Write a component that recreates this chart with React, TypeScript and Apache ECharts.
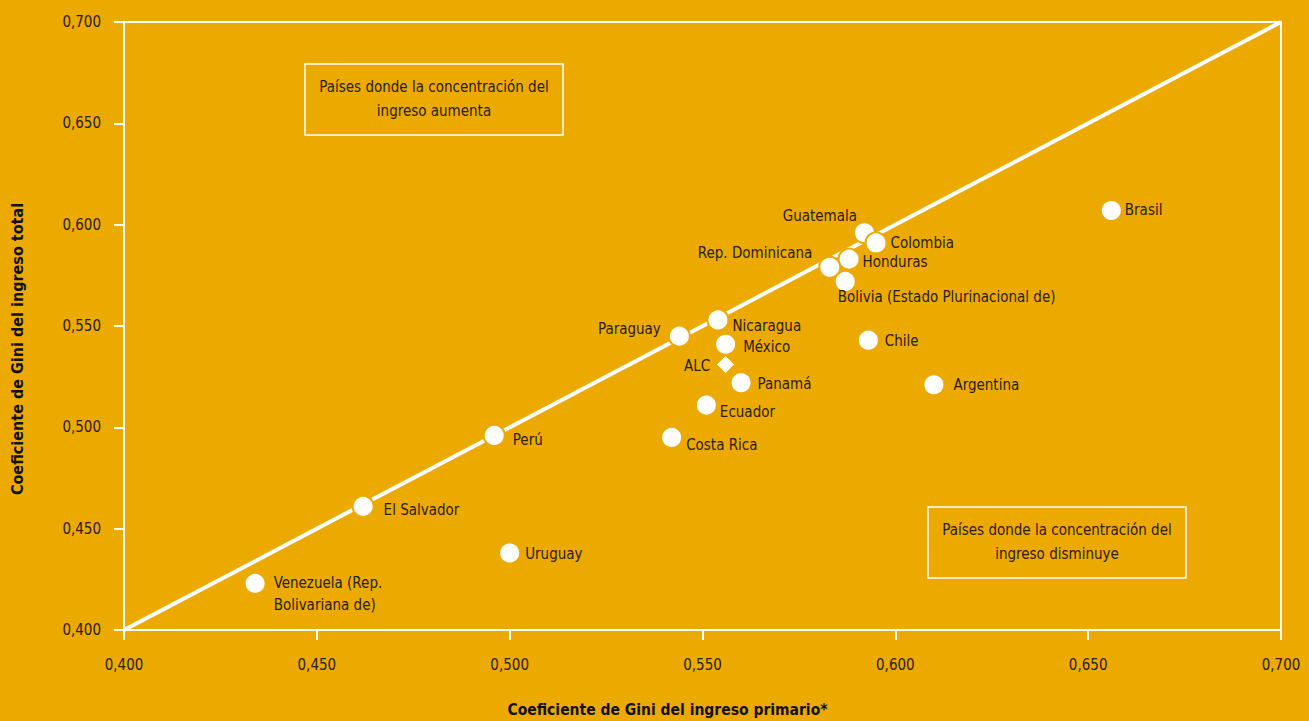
import React, { useEffect, useRef } from "react";
import * as echarts from "echarts";

const countries = [
  "Brasil", "Guatemala", "Colombia", "Honduras", "Rep. Dominicana",
  "Bolivia (Estado Plurinacional de)", "Paraguay", "Nicaragua", "México",
  "Panamá", "Ecuador", "Costa Rica", "Chile", "Argentina", "Perú",
  "El Salvador", "Uruguay", "Venezuela (Rep.\nBolivariana de)",
];
const giniPrimario = [
  0.656, 0.592, 0.595, 0.588, 0.583,
  0.587, 0.544, 0.554, 0.556,
  0.560, 0.551, 0.542, 0.593, 0.610, 0.496,
  0.462, 0.500, 0.434,
];
const giniTotal = [
  0.607, 0.596, 0.591, 0.583, 0.579,
  0.572, 0.545, 0.553, 0.541,
  0.522, 0.511, 0.495, 0.543, 0.521, 0.496,
  0.461, 0.438, 0.423,
];
const alcName = "ALC";
const alcPrimario = 0.556;
const alcTotal = 0.531;
const axisTicks = [0.4, 0.45, 0.5, 0.55, 0.6, 0.65, 0.7];
const xAxisTitle = "Coeficiente de Gini del ingreso primario*";
const yAxisTitle = "Coeficiente de Gini del ingreso total";
const boxUp = ["Países donde la concentración del", "ingreso aumenta"];
const boxDown = ["Países donde la concentración del", "ingreso disminuye"];

// label layout (style only): [position, distance, dy]
const labelLayout: Record<string, [string, number, number]> = {
  "Brasil": ["right", 2, 0],
  "Guatemala": ["left", -4, -17],
  "Colombia": ["right", 3, 0],
  "Honduras": ["right", 2, 3],
  "Rep. Dominicana": ["left", 6, -14],
  "Bolivia (Estado Plurinacional de)": ["right", -19, 16],
  "Paraguay": ["left", 7, -7],
  "Nicaragua": ["right", 3, 6],
  "México": ["right", 6, 3],
  "Panamá": ["right", 5, 1],
  "Ecuador": ["right", 2, 7],
  "Costa Rica": ["right", 3, 8],
  "Chile": ["right", 5, 1],
  "Argentina": ["right", 8, 0],
  "Perú": ["right", 7, 5],
  "El Salvador": ["right", 9, 4],
  "Uruguay": ["right", 4, 1],
  "Venezuela (Rep.\nBolivariana de)": ["right", 7, 11],
};

const BG = "#ECA900";
const TXT = "#2B2000";
const FONT = "'Liberation Sans Narrow', 'DejaVu Sans Condensed', sans-serif";
const fmt = (v: number) => v.toFixed(3).replace(".", ",");

export default function App() {
  const ref = useRef<HTMLDivElement>(null);
  useEffect(() => {
    if (!ref.current) return;
    const chart = echarts.init(ref.current, null, { renderer: "svg" });
    const pts = countries.map((name, i) => {
      const [pos, dist, dy] = labelLayout[name] || ["right", 4, 0];
      return {
        name,
        value: [giniPrimario[i], giniTotal[i]],
        label: { position: pos, distance: dist, offset: [0, dy] },
      };
    });
    const axisCommon = {
      type: "value",
      min: 0.4,
      max: 0.7,
      interval: 0.05,
      splitLine: { show: false },
      axisLine: { show: true, lineStyle: { color: "#fff", width: 2 } },
      axisTick: { show: true, inside: false, length: 10, lineStyle: { color: "#fff", width: 2 } },
      nameLocation: "middle",
    };
    chart.setOption({
      animation: false,
      backgroundColor: BG,
      textStyle: { fontFamily: FONT },
      grid: {
        left: 124, right: 28, top: 22, bottom: 91,
        containLabel: false,
        outerBoundsMode: "none",
        show: true, borderColor: "#fff", borderWidth: 2, backgroundColor: "transparent",
      },
      xAxis: {
        ...axisCommon,
        name: xAxisTitle,
        nameGap: 72,
        nameTextStyle: {
          color: "#111", fontFamily: FONT, fontWeight: "bold", fontSize: 15.5,
          padding: [0, 70, 0, 0],
        },
        axisLabel: { color: TXT, fontFamily: FONT, fontSize: 15, margin: 27, formatter: fmt },
      },
      yAxis: {
        ...axisCommon,
        name: yAxisTitle,
        nameGap: 99,
        nameTextStyle: {
          color: "#111", fontFamily: FONT, fontWeight: "bold", fontSize: 16,
          padding: [0, 46, 0, 0],
        },
        axisLabel: { color: TXT, fontFamily: FONT, fontSize: 15, margin: 23, formatter: fmt },
      },
      series: [
        {
          type: "line",
          data: [[axisTicks[0], axisTicks[0]], [axisTicks[axisTicks.length - 1], axisTicks[axisTicks.length - 1]]],
          symbol: "none",
          lineStyle: { color: "#fff", width: 4 },
          z: 1,
          silent: true,
        },
        {
          type: "scatter",
          data: pts,
          symbol: "circle",
          symbolSize: 21,
          itemStyle: { color: "#fff", borderColor: BG, borderWidth: 2, opacity: 1 },
          label: {
            show: true,
            formatter: (p: any) => p.name,
            color: TXT,
            fontFamily: FONT,
            fontSize: 15,
            lineHeight: 22,
          },
          z: 3,
        },
        {
          type: "scatter",
          data: [{ name: alcName, value: [alcPrimario, alcTotal] }],
          symbol: "diamond",
          symbolSize: 18,
          itemStyle: { color: "#fff", borderColor: BG, borderWidth: 1, opacity: 1 },
          label: {
            show: true,
            position: "left",
            distance: 6,
            offset: [0, 1],
            formatter: (p: any) => p.name,
            color: TXT,
            fontFamily: FONT,
            fontSize: 15,
          },
          z: 3,
        },
      ],
      graphic: [
        {
          type: "rect",
          shape: { x: 305, y: 64, width: 258, height: 71 },
          style: { fill: "transparent", stroke: "#fff", lineWidth: 1.5 },
        },
        {
          type: "text",
          x: 434, y: 99,
          style: {
            text: boxUp.join("\n"), align: "center", verticalAlign: "middle",
            fill: TXT, font: `15px ${FONT}`, lineHeight: 24,
          },
        },
        {
          type: "rect",
          shape: { x: 928, y: 507, width: 258, height: 71 },
          style: { fill: "transparent", stroke: "#fff", lineWidth: 1.5 },
        },
        {
          type: "text",
          x: 1057, y: 542,
          style: {
            text: boxDown.join("\n"), align: "center", verticalAlign: "middle",
            fill: TXT, font: `15px ${FONT}`, lineHeight: 24,
          },
        },
      ],
    });
    return () => chart.dispose();
  }, []);
  return (
    <div
      ref={ref}
      style={{ position: "absolute", left: 0, top: 0, width: 1309, height: 721 }}
    />
  );
}
